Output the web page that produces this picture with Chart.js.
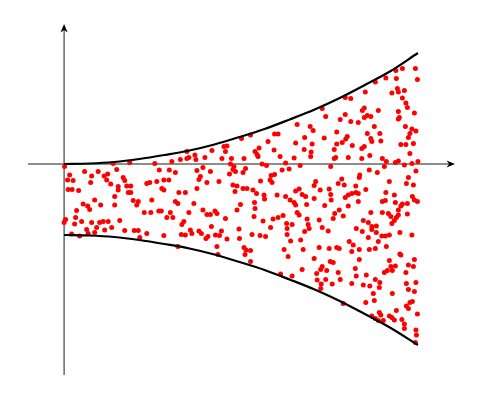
<!DOCTYPE html>
<html>
<head>
  <title>Scatter between two curves</title>
  <meta charset="utf-8">
  <style>
    body { margin: 0; background: #fff; }
    canvas { display: block; }
  </style>
</head>
<body>
<script src="https://cdn.jsdelivr.net/npm/chart.js"></script>
<canvas id="funnel" width="482" height="400"></canvas>
<script>
  // Boundary curves (arbitrary units, no ticks shown)
  const curveX = [0, 0.5, 1, 1.5, 2, 2.5, 3, 3.5, 4, 4.5, 5, 5.5, 6, 6.5, 7.06];
  const upperY = [0, 0.01, 0.04, 0.10, 0.18, 0.27, 0.39, 0.54, 0.70, 0.89, 1.09, 1.32, 1.58, 1.85, 2.22];
  const lowerY = [-1.42, -1.43, -1.46, -1.52, -1.60, -1.69, -1.81, -1.96, -2.12, -2.31, -2.51, -2.74, -3.00, -3.27, -3.62];

  // Red dots [x, y]
  const dots = [
    [0.01,-0.05],[0.11,-0.22],[0.07,-0.32],[0.18,-0.33],[0.41,-0.15],[0.55,-0.24],[0.53,-0.37],[0.68,-0.15],
    [0.80,-0.24],[0.87,-0.20],[0.85,-0.32],[0.93,-0.40],[1.05,-0.11],[1.18,-0.27],[1.21,-0.33],[1.08,-0.45],
    [1.25,-0.44],[1.33,-0.44],[1.28,-0.57],[1.33,-0.57],[1.08,-0.52],[1.01,-0.65],[0.98,0.01],[1.31,0.03],
    [1.65,-0.39],[1.71,-0.37],[1.81,0.01],[0.08,-0.51],[0.16,-0.51],[0.29,-0.53],[0.38,-0.80],[0.47,-0.84],
    [0.51,-0.91],[0.25,-0.93],[0.61,-0.72],[0.73,-0.82],[1.01,-0.82],[1.38,-0.73],[1.48,-0.75],[1.45,-0.82],
    [1.75,-0.72],[1.60,-0.97],[1.73,-0.97],[0.00,-1.17],[0.03,-1.11],[0.23,-1.07],[0.35,-1.15],[0.21,-1.20],
    [0.55,-1.17],[0.71,-1.17],[0.78,-1.15],[0.88,-1.15],[1.11,-1.13],[0.45,-1.31],[0.65,-1.27],[0.81,-1.32],
    [0.95,-1.27],[0.61,-1.37],[1.21,-1.33],[1.40,-1.33],[1.48,-1.33],[1.65,-1.39],[1.51,-1.47],[0.15,-1.40],
    [0.31,-1.44],[0.48,-1.39],
    [2.45,0.25],[2.15,0.05],[2.32,0.09],[2.45,0.11],[2.49,0.13],[2.61,0.18],[2.63,0.09],[2.81,0.13],
    [2.95,0.27],[3.19,0.35],[3.25,0.36],[3.22,0.25],[3.15,0.11],[3.34,0.11],[3.54,0.51],[3.72,0.58],
    [3.81,0.25],[3.59,0.11],[3.32,0.00],[3.39,-0.05],[3.37,-0.11],[3.62,-0.09],[3.42,-0.15],[3.57,-0.17],
    [3.30,-0.20],[2.77,-0.07],[2.65,-0.13],[2.92,-0.15],[2.72,-0.25],[2.69,-0.31],[2.22,-0.17],[2.10,-0.12],
    [1.90,-0.12],[1.85,-0.35],[1.99,-0.32],[2.09,-0.32],[1.95,-0.49],[1.99,-0.52],[2.85,-0.37],[3.09,-0.35],
    [3.37,-0.42],[3.45,-0.44],[3.57,-0.49],[3.65,-0.49],[3.41,-0.55],[2.65,-0.49],[2.29,-0.57],[2.42,-0.57],
    [3.77,-0.52],
    [2.22,-0.75],[2.27,-0.79],[2.59,-0.79],[1.89,-0.94],[1.94,-0.94],[2.12,-0.97],[2.49,-0.97],[2.77,-0.92],
    [2.85,-1.01],[2.92,-1.01],[3.01,-0.94],[3.05,-0.99],[2.05,-1.07],[2.17,-1.07],[3.22,-1.09],[3.52,-0.81],
    [3.45,-0.92],[3.81,-0.89],[2.39,-1.15],[2.35,-1.21],[2.94,-1.25],[2.52,-1.32],[2.55,-1.39],[2.69,-1.34],
    [2.74,-1.39],[2.34,-1.41],[2.42,-1.42],[2.87,-1.45],[2.83,-1.49],[3.14,-1.34],[3.02,-1.42],[3.10,-1.43],
    [3.25,-1.50],[3.49,-1.30],[3.75,-1.41],[3.50,-1.49],[1.99,-1.43],[2.27,-1.65],[3.05,-1.65],[3.07,-1.81],
    [3.59,-1.67],[3.63,-1.72],[3.61,-1.81],[3.72,-1.95],
    [5.15,1.11],[5.22,0.95],[5.51,0.89],[4.65,0.79],[4.91,0.75],[4.97,0.67],[5.44,0.64],[4.20,0.60],
    [4.27,0.60],[4.80,0.53],[5.19,0.52],[4.07,0.45],[4.62,0.42],[4.95,0.40],[5.44,0.40],[3.89,0.32],
    [3.85,0.19],[3.87,0.15],[4.19,0.28],[4.79,0.29],[4.93,0.24],[5.39,0.29],[4.31,0.15],[4.59,0.12],
    [4.92,0.15],[5.39,0.11],[3.95,0.00],[4.04,-0.03],[4.42,0.02],[4.71,-0.03],[5.32,-0.05],
    [4.35,-0.12],[4.49,-0.10],[4.20,-0.21],[4.13,-0.23],[4.11,-0.32],[4.15,-0.37],[3.92,-0.34],[5.02,-0.35],
    [4.99,-0.43],[5.11,-0.52],[5.29,-0.50],[5.47,-0.39],[4.69,-0.50],[4.62,-0.54],[4.75,-0.61],[4.82,-0.65],
    [4.99,-0.69],[5.32,-0.61],[5.33,-0.72],[4.25,-0.62],[4.42,-0.65],[4.51,-0.72],[4.59,-0.77],[4.62,-0.82],
    [3.84,-0.59],[3.99,-0.62],[4.00,-0.70],[3.80,-0.77],[4.84,-0.81],[5.20,-0.83],[5.49,-0.92],[4.65,-0.97],
    [4.69,-1.02],[3.79,-1.05],[3.97,-1.14],[4.17,-1.10],[4.27,-1.07],[4.37,-1.03],[4.12,-1.27],[4.44,-1.19],
    [4.55,-1.21],[4.45,-1.29],[4.85,-1.10],[4.87,-1.21],[4.89,-1.29],[4.80,-1.35],[5.09,-1.12],[5.15,-1.27],
    [5.27,-1.34],[5.37,-1.09],[5.40,-0.99],[3.91,-1.43],[4.02,-1.45],[4.45,-1.41],[4.52,-1.54],[4.72,-1.52],
    [3.72,-1.73],[4.39,-1.71],[4.77,-1.71],[5.09,-1.67],[5.29,-1.69],[5.44,-1.67],[5.49,-1.69],[4.47,-1.85],
    [4.99,-1.89],[5.31,-1.95],[5.37,-1.97],[4.75,-2.11],[5.15,-2.05],[5.12,-2.11],[5.24,-2.13],[5.04,-2.19],
    [5.47,-2.17],[4.32,-2.20],[4.55,-2.24],[5.05,-2.32],[5.22,-2.31],[5.51,-2.31],[5.13,-2.40],[5.35,-2.40],
    [5.12,-2.49],
    [6.62,1.87],[6.75,1.91],[7.01,1.91],[6.42,1.72],[6.63,1.71],[7.05,1.69],[6.21,1.64],[6.01,1.44],
    [6.54,1.42],[6.65,1.51],[6.67,1.44],[6.79,1.47],[6.75,1.32],[6.82,1.22],[6.85,1.13],[5.61,1.33],
    [5.72,1.31],[5.99,1.12],[5.95,1.07],[6.27,1.07],[6.67,1.05],[6.99,1.02],[5.61,0.99],[6.05,0.97],
    [6.12,0.95],[5.99,0.93],[6.69,0.93],
    [5.72,0.85],[5.87,0.83],[6.67,0.90],[6.19,0.75],[6.81,0.75],[6.94,0.70],[7.02,0.66],[6.05,0.61],
    [6.30,0.61],[6.90,0.61],[6.87,0.53],[5.65,0.55],[5.62,0.50],[5.55,0.43],[6.12,0.51],[6.14,0.45],
    [6.32,0.46],[5.75,0.37],[5.99,0.35],[5.94,0.31],[6.72,0.39],[6.82,0.39],[6.97,0.41],[6.90,0.21],
    [5.42,0.13],[5.67,0.13],[5.94,0.11],[6.10,0.17],[6.35,0.11],[6.43,0.05],[6.61,0.03],[6.67,0.06],
    [6.79,-0.02],[6.94,0.01],[7.06,0.05],[6.39,-0.05],[6.25,-0.17],[6.09,-0.12],[5.90,-0.22],[5.89,-0.27],
    [5.54,-0.30],[6.49,-0.35],[6.87,-0.27],[7.02,-0.14],[6.83,-0.39],
    [5.59,-0.42],[5.82,-0.44],[6.02,-0.51],[6.97,-0.42],[5.67,-0.62],[5.74,-0.59],[5.82,-0.57],[5.87,-0.59],
    [5.61,-0.67],[6.42,-0.57],[6.59,-0.62],[6.95,-0.65],[6.99,-0.72],[7.05,-0.75],[6.85,-0.79],[5.87,-0.75],
    [6.35,-0.75],[6.41,-0.73],[6.61,-0.77],[5.67,-0.84],[6.72,-0.84],[6.75,-0.80],[6.67,-0.92],[5.57,-1.04],
    [6.12,-0.97],[6.35,-0.97],[6.47,-0.99],[6.52,-1.05],[6.67,-1.02],[6.85,-1.00],[6.63,-1.07],[6.59,-1.13],
    [6.54,-1.19],[5.97,-1.13],[6.07,-1.17],[6.14,-1.25],[6.23,-1.24],[5.83,-1.29],[5.95,-1.35],[6.14,-1.31],
    [6.23,-1.37],[6.34,-1.44],[6.41,-1.44],[6.49,-1.42],[6.70,-1.37],[6.94,-1.42],[6.07,-1.47],[6.27,-1.55],
    [5.69,-1.55],[5.77,-1.62],[5.89,-1.71],[5.74,-1.75],[6.09,-1.71],[6.21,-1.69],[6.43,-1.65],[6.70,-1.80],
    [5.89,-1.91],[6.72,-1.82],[6.99,-1.91],[6.49,-1.93],[6.52,-2.05],[6.61,-2.04],[6.55,-2.13],[6.45,-2.13],
    [6.39,-2.17],[6.87,-2.02],[6.97,-2.05],[6.82,-2.17],[5.81,-2.09],[5.83,-2.24],[6.03,-2.22],[6.21,-2.31],
    [6.30,-2.37],[5.74,-2.39],[5.97,-2.42],[6.10,-2.44],[6.29,-2.47],[6.17,-2.59],[6.83,-2.39],[7.02,-2.37],
    [6.87,-2.51],[6.99,-2.55],[6.55,-2.59],[6.19,-2.73],[6.02,-2.77],[6.90,-2.77],[6.95,-2.75],[6.83,-2.84],
    [6.87,-2.89],[6.63,-2.93],[7.05,-3.00],[6.29,-2.97],[6.32,-3.02],[6.14,-3.04],[6.21,-3.09],[6.27,-3.13],
    [6.37,-3.13],[6.49,-3.04],[6.54,-3.07],[6.59,-3.12],[6.74,-3.11],[6.79,-3.20],[6.79,-3.29],[7.02,-3.32],
    [7.03,-3.42],[7.01,-3.57],[5.57,-2.79]
  ];

  // axis extent (the drawn axes run across the whole plot box)
  const xMin = -0.72, xMax = 7.8;
  const yMin = -4.22, yMax = 2.8;

  function stealth(ctx, tx, ty, dx, dy) {
    const len = 8.5, hw = 3.6, inset = 2.6;
    const px = -dy, py = dx;
    ctx.beginPath();
    ctx.moveTo(tx, ty);
    ctx.lineTo(tx - dx * len + px * hw, ty - dy * len + py * hw);
    ctx.lineTo(tx - dx * (len - inset), ty - dy * (len - inset));
    ctx.lineTo(tx - dx * len - px * hw, ty - dy * len - py * hw);
    ctx.closePath();
    ctx.fill();
  }

  // draws the two axes through the origin, with arrow tips
  const axesPlugin = {
    id: 'axesThroughOrigin',
    beforeDatasetsDraw(chart) {
      const { ctx, chartArea, scales } = chart;
      const x0 = scales.x.getPixelForValue(0);
      const y0 = scales.y.getPixelForValue(0);
      ctx.save();
      ctx.strokeStyle = '#000';
      ctx.fillStyle = '#000';
      ctx.lineWidth = 0.9;
      ctx.beginPath();
      ctx.moveTo(chartArea.left, y0);
      ctx.lineTo(chartArea.right - 5, y0);
      ctx.moveTo(x0, chartArea.bottom);
      ctx.lineTo(x0, chartArea.top + 5);
      ctx.stroke();
      stealth(ctx, chartArea.right, y0, 1, 0);
      stealth(ctx, x0, chartArea.top, 0, -1);
      ctx.restore();
    }
  };

  const curveStyle = {
    type: 'line',
    borderColor: '#000',
    borderWidth: 2.2,
    pointRadius: 0,
    fill: false,
    cubicInterpolationMode: 'monotone'
  };

  new Chart(document.getElementById('funnel'), {
    type: 'scatter',
    data: {
      datasets: [
        Object.assign({ data: curveX.map((x, i) => ({ x: x, y: upperY[i] })) }, curveStyle),
        Object.assign({ data: curveX.map((x, i) => ({ x: x, y: lowerY[i] })) }, curveStyle),
        {
          data: dots.map(d => ({ x: d[0], y: d[1] })),
          backgroundColor: '#ff0000',
          borderWidth: 0,
          pointRadius: 2.5
        }
      ]
    },
    options: {
      responsive: false,
      animation: false,
      layout: { padding: { left: 28, right: 27, top: 24, bottom: 25 } },
      plugins: { legend: { display: false }, tooltip: { enabled: false } },
      scales: {
        x: { type: 'linear', min: xMin, max: xMax, display: false },
        y: { type: 'linear', min: yMin, max: yMax, display: false }
      }
    },
    plugins: [axesPlugin]
  });
</script>
</body>
</html>
